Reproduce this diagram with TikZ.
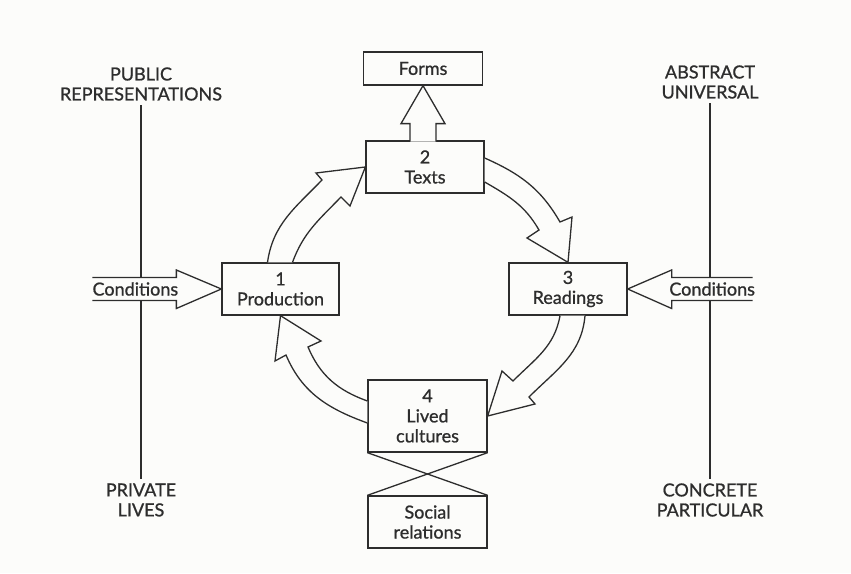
\documentclass[tikz,border=0pt]{standalone}
\usepackage{fontspec}
\setsansfont{Lato}[FakeBold=0.9]
\usetikzlibrary{calc}
\definecolor{paper}{RGB}{252,252,250}
\definecolor{ink}{RGB}{45,45,45}

\begin{document}
\begin{tikzpicture}[x=1pt, y=1pt, font=\sffamily\fontsize{18}{20}\selectfont, line width=1.3pt, draw=ink, text=ink]
	\tikzstyle{boxStyle}=[draw, fill=paper, align=center, inner sep=2pt]
	\tikzstyle{poleStyle}=[align=center, inner sep=4pt]
	\tikzstyle{blockArrow}=[draw, fill=paper, line join=miter]
	\fill[paper] (0,0) rectangle (851,573);
	\useasboundingbox (0,0) rectangle (851,573);
	% the two axes
	\node[poleStyle] (pub) at (141,489) {PUBLIC\\REPRESENTATIONS};
	\node[poleStyle] (priv) at (141,73) {PRIVATE\\LIVES};
	\node[poleStyle] (abs) at (710,491) {ABSTRACT\\UNIVERSAL};
	\node[poleStyle] (conc) at (710,73) {CONCRETE\\PARTICULAR};
	\draw (pub) -- (priv);
	\draw (abs) -- (conc);
	% the moments of the circuit
	\node[boxStyle, minimum width=119pt, minimum height=33pt] (forms) at (423,504.5) {Forms};
	\node[boxStyle, minimum width=118pt, minimum height=52pt] (texts) at (425,406) {2\\Texts};
	\node[boxStyle, minimum width=117pt, minimum height=52pt] (prod) at (280.5,284) {1\\Production};
	\node[boxStyle, minimum width=118pt, minimum height=52pt] (read) at (568,284) {3\\Readings};
	\node[boxStyle, minimum width=119pt, minimum height=72pt] (lived) at (427.5,157) {4\\Lived\\cultures};
	\node[boxStyle, minimum width=119pt, minimum height=52pt] (social) at (427.5,51) {Social\\relations};
	% conditions coming in from both sides
	\draw[blockArrow] ($(prod.west)+(-129,11.5)$) -- ++(84,0) -- ++(0,7.5) -- (prod.west) -- ++(-45,-19.5) -- ++(0,8) -- ++(-84,0);
	\draw[blockArrow] ($(read.east)+(125,11.5)$) -- ++(-81,0) -- ++(0,7.5) -- (read.east) -- ++(44,-19.5) -- ++(0,8) -- ++(81,0);
	\node[inner sep=0pt] (condL) at ($(prod.west)+(-86,0)$) {Conditions};
	\node[inner sep=0pt] (condR) at ($(read.east)+(84.5,0)$) {Conditions};
	% texts up to forms
	\draw[blockArrow] ($(forms.south)+(-13,-56)$) -- ++(0,18) -- ++(-9,0) -- (forms.south) -- ++(22,-38) -- ++(-9,0) -- ++(0,-18);
	% the circuit
	\draw[blockArrow] ($(prod.north)+(-13,0)$) to[out=82,in=226] (322,393) -- (316,400) -- (texts.west) -- (350,367) -- (341,376) to[out=226,in=70] ($(prod.north)+(12,0)$);
	\draw[blockArrow] ($(texts.east)+(0,9)$) to[out=-24,in=120] (560,351) -- (572,356) -- (read.north) -- (527,335) -- (539,343) to[out=120,in=-30] ($(texts.east)+(0,-15)$);
	\draw[blockArrow] ($(read.south)+(17,0)$) to[out=-95,in=45] (529,176) -- (535,169) -- (lived.east) -- (502,202) -- (513,192) to[out=45,in=-100] ($(read.south)+(-8,0)$);
	\draw[blockArrow] ($(lived.west)+(0,-7)$) to[out=160,in=-67] (286,218) -- (275,212) -- (prod.south) -- (321,232) -- (308,226) to[out=-67,in=160] ($(lived.west)+(0,15)$);
	% lived cultures and social relations
	\draw (lived.south west) -- (social.north east);
	\draw (lived.south east) -- (social.north west);
\end{tikzpicture}
\end{document}
